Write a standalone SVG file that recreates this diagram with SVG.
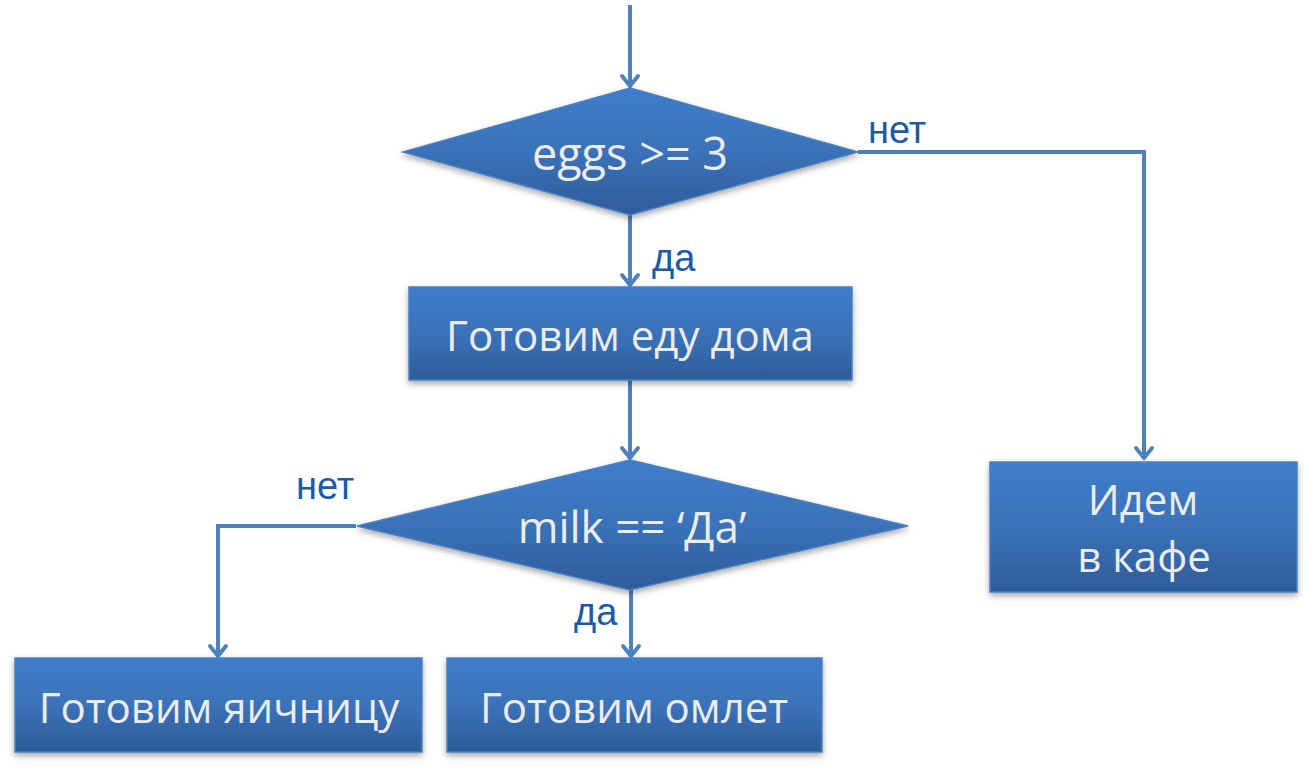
<svg xmlns="http://www.w3.org/2000/svg" width="1306" height="774" viewBox="0 0 1306 774">
<style>
.node{fill:url(#g);stroke:#4a7fc0;stroke-width:1.5;filter:url(#sh)}
.nt{font-family:"Open Sans","Noto Sans",sans-serif;fill:#ececec;text-anchor:middle}
.c{fill:none;stroke:#4f81bd;stroke-width:4;stroke-linejoin:miter}
.lbl{font-family:"Liberation Sans",Arial,sans-serif;font-size:38px;fill:#1b5aa6}
</style>
<defs>
<linearGradient id="g" x1="0" y1="0" x2="0" y2="1">
<stop offset="0" stop-color="#3e7dcb"/>
<stop offset="0.5" stop-color="#3a72b9"/>
<stop offset="1" stop-color="#2e5c99"/>
</linearGradient>
<filter id="sh" x="-10%" y="-10%" width="120%" height="130%">
<feDropShadow dx="0" dy="3" stdDeviation="3" flood-color="#000" flood-opacity="0.35"/>
</filter>
<marker id="ah" markerUnits="userSpaceOnUse" markerWidth="30" markerHeight="30" refX="15" refY="15" orient="auto" overflow="visible">
<path d="M5,7 L15,15 L5,23" fill="none" stroke="#4f81bd" stroke-width="4" stroke-linecap="round" stroke-linejoin="round"/>
</marker>
</defs>
<g id="connectors">
<path class="c" d="M630,5 V86" marker-end="url(#ah)"/>
<path class="c" d="M630,215 V285" marker-end="url(#ah)"/>
<path class="c" d="M630,380 V458" marker-end="url(#ah)"/>
<path class="c" d="M858,152 H1144 V458" marker-end="url(#ah)"/>
<path class="c" d="M356,526 H218 V656" marker-end="url(#ah)"/>
<path class="c" d="M631,590 V656" marker-end="url(#ah)"/>
</g>
<g id="labels">
<text class="lbl" x="652" y="271">да</text>
<text class="lbl" x="868" y="143">нет</text>
<text class="lbl" x="296" y="499">нет</text>
<text class="lbl" x="574" y="625">да</text>
</g>
<g id="n1">
<polygon class="node" points="630,88 858,152 630,215 403,152"/>
<text class="nt" x="630" y="170" font-size="45">eggs &gt;= 3</text>
</g>
<g id="n2">
<rect class="node" x="409" y="287" width="443" height="93"/>
<text class="nt" x="630" y="351" font-size="42">Готовим еду дома</text>
</g>
<g id="n3">
<polygon class="node" points="630,460 908,526 630,590 357,526"/>
<text class="nt" x="632" y="543" font-size="44">milk == ‘Да’</text>
</g>
<g id="n4">
<rect class="node" x="15" y="658" width="407" height="94"/>
<text class="nt" x="219" y="723" font-size="42">Готовим яичницу</text>
</g>
<g id="n5">
<rect class="node" x="447" y="658" width="375" height="94"/>
<text class="nt" x="634" y="723" font-size="42">Готовим омлет</text>
</g>
<g id="n6">
<rect class="node" x="990" y="462" width="307" height="130"/>
<text class="nt" x="1143" y="515" font-size="42">Идем</text>
<text class="nt" x="1144" y="572" font-size="42">в кафе</text>
</g>
</svg>
